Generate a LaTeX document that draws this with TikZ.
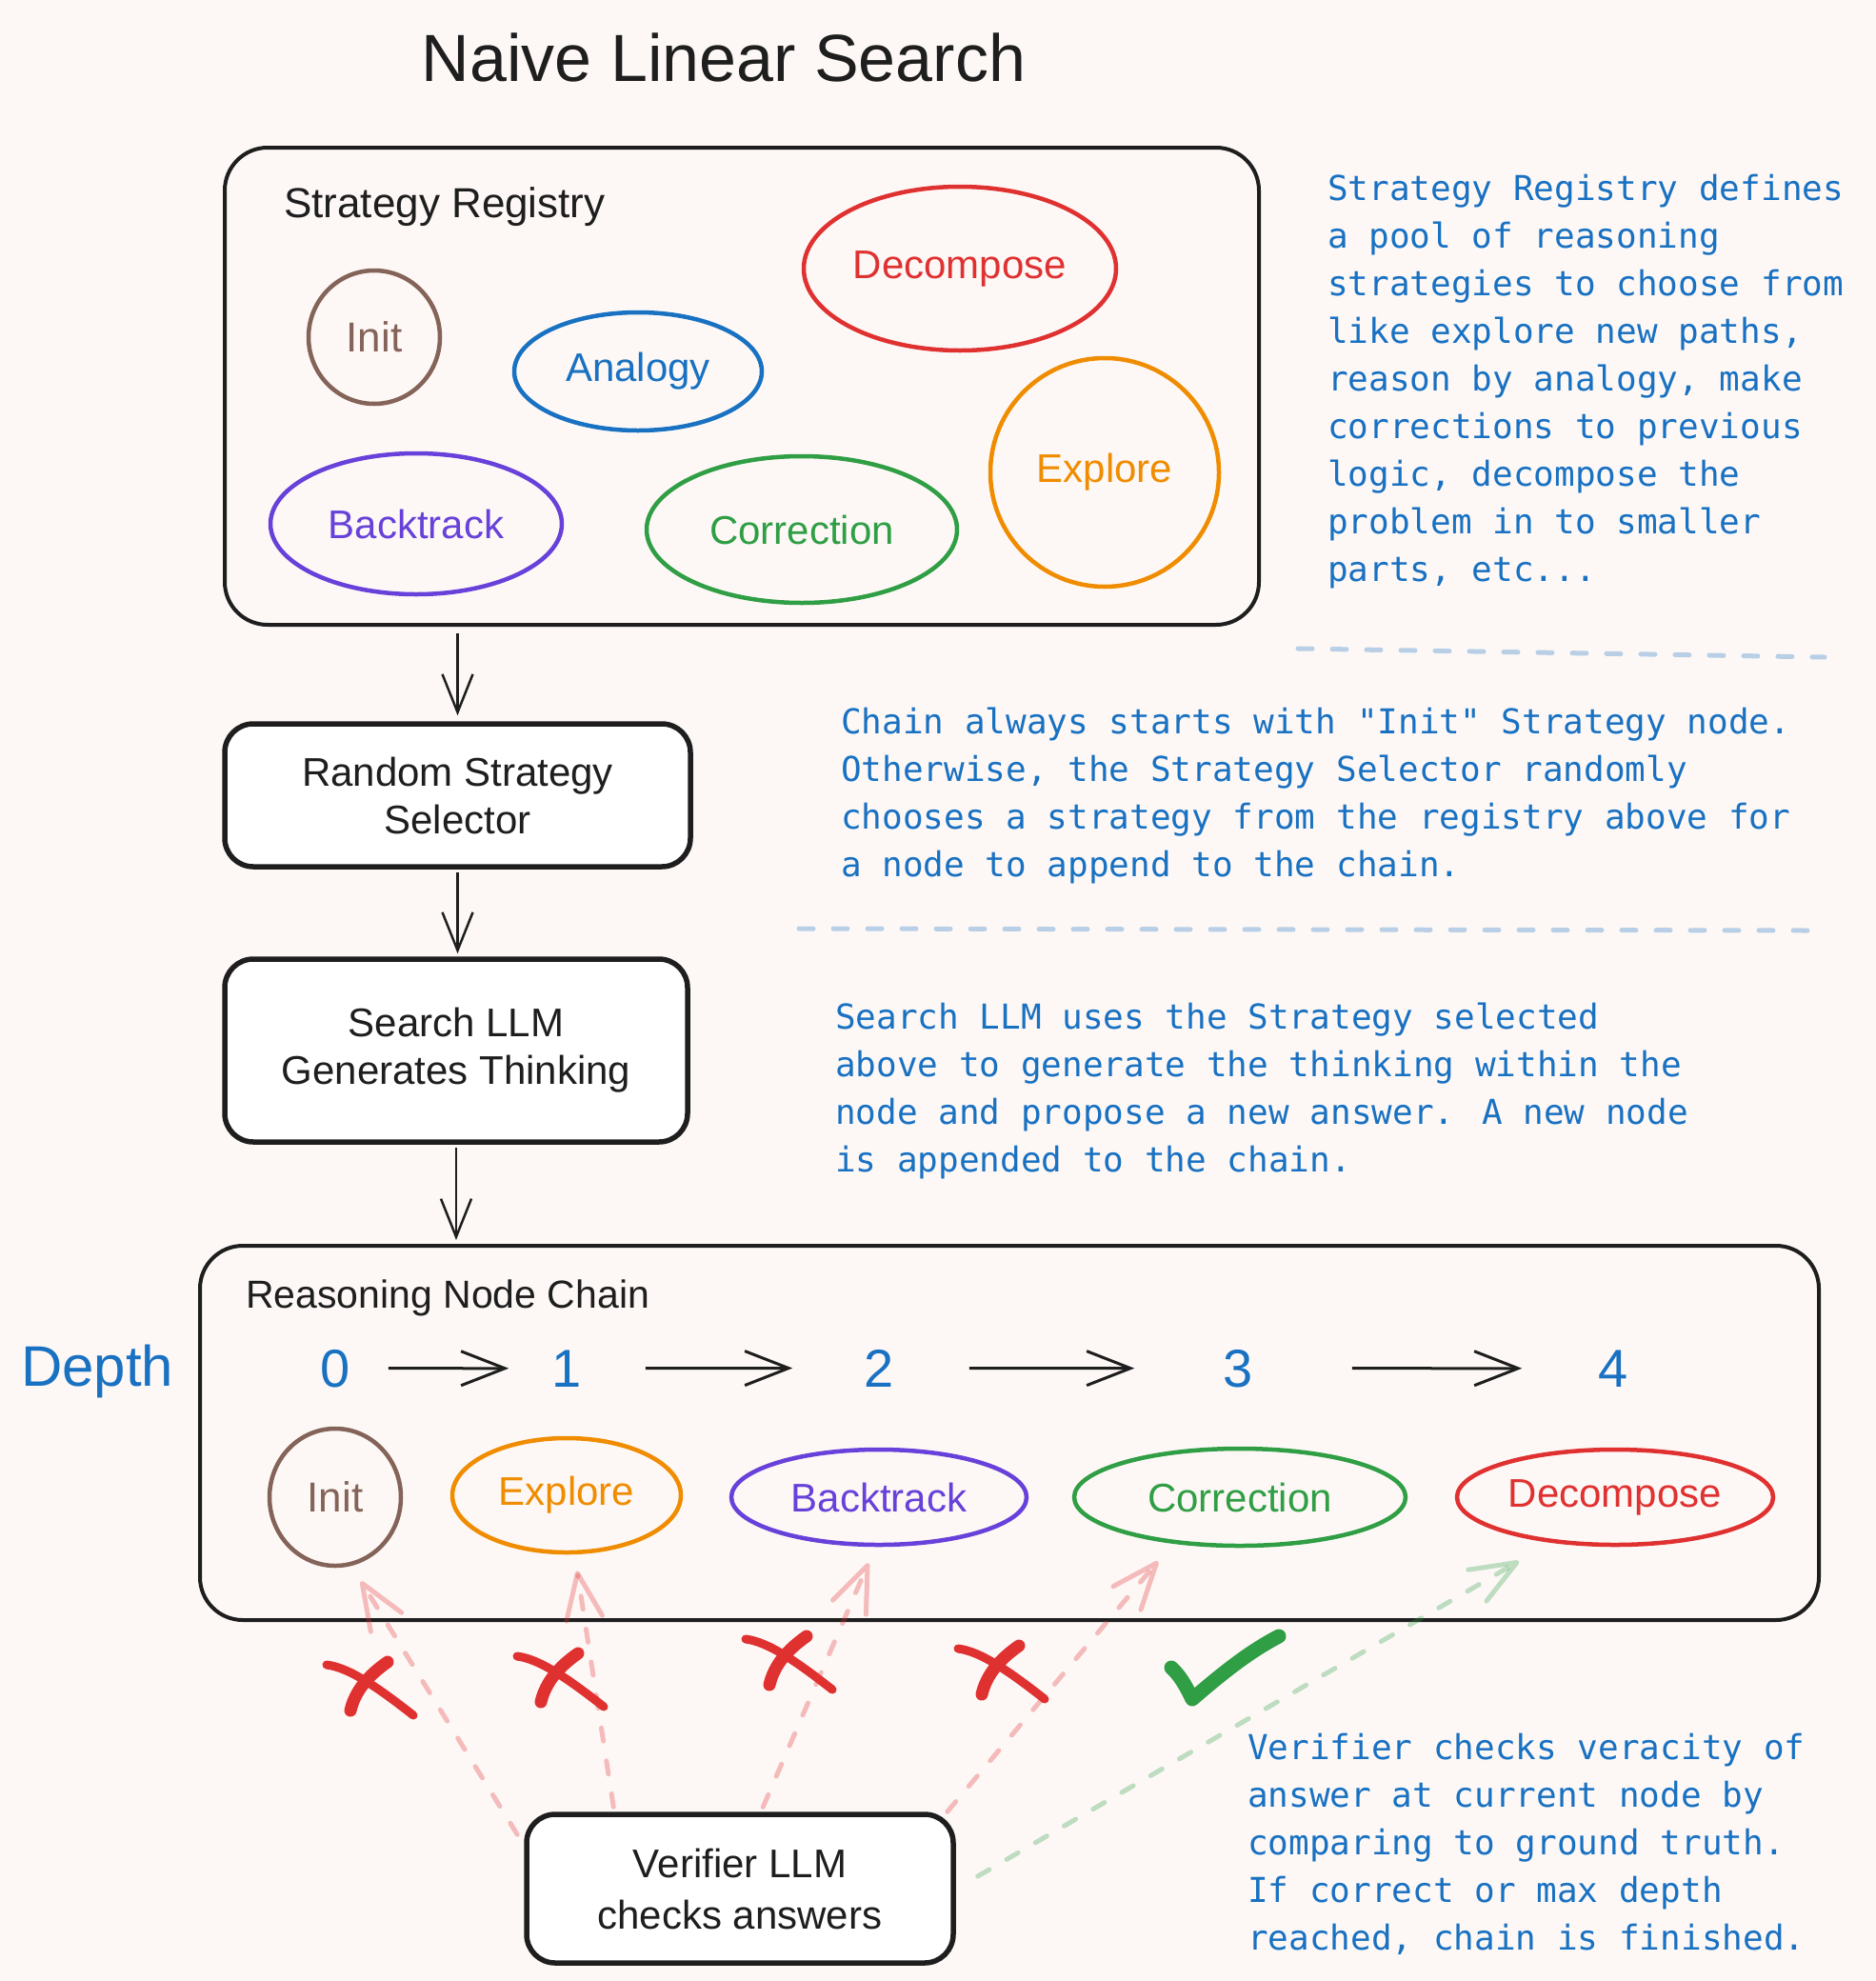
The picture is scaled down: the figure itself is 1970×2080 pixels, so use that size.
\documentclass[tikz,border=0pt]{standalone}
\usepackage{fontspec}
\setmainfont{Liberation Sans}
\newfontfamily\monofont{DejaVu Sans Mono}
\usetikzlibrary{shapes.geometric,arrows.meta,calc}
\definecolor{bgc}{HTML}{FDF8F6}
\definecolor{ink}{HTML}{1E1E1E}
\definecolor{cbrown}{HTML}{846358}
\definecolor{cblue}{HTML}{1971C2}
\definecolor{cred}{HTML}{E03131}
\definecolor{corange}{HTML}{F08C00}
\definecolor{cviolet}{HTML}{6741D9}
\definecolor{cgreen}{HTML}{2F9E44}
\begin{document}
\begin{tikzpicture}[x=1pt,y=-1pt,
  bigbox/.style={draw=ink, line width=4pt, rounded corners=45pt, inner sep=0pt},
  smallbox/.style={draw=ink, line width=5.5pt, fill=white, rounded corners=30pt, align=center, font=\fontsize{42}{50}\selectfont, text=ink},
  ell/.style={ellipse, draw, line width=4.5pt, inner sep=0pt, font=\fontsize{42}{48}\selectfont},
  lab/.style={text=ink, inner sep=0pt, anchor=base west},
  digit/.style={font=\fontsize{56}{60}\selectfont, text=cblue, inner sep=0pt, anchor=base},
  note/.style={font=\monofont\fontsize{36}{50}\selectfont, text=cblue, inner sep=0pt, anchor=base west, align=left},
  flow/.style={draw=ink, line width=2.5pt, -{Straight Barb[length=40pt,width=32pt]}},
  chainarr/.style={draw=ink, line width=3pt, -{Straight Barb[length=46pt,width=36pt]}},
  sepline/.style={draw=cblue, draw opacity=0.3, line width=5pt, line cap=round, dash pattern=on 15pt off 21pt},
  pinkarrow/.style={draw=cred, draw opacity=0.3, line width=5pt, line cap=round, dash pattern=on 14pt off 21pt, -{Straight Barb[length=48pt,width=38pt,round]}},
  greenarrow/.style={draw=cgreen, draw opacity=0.3, line width=5pt, line cap=round, dash pattern=on 14pt off 21pt, -{Straight Barb[length=48pt,width=38pt,round]}},
  xcross/.pic={
    \draw[cred, line width=9pt, line cap=round] (-44,-19) .. controls (-20,-16) and (10,5) .. (47,34);
    \draw[cred, line width=13pt, line cap=round] (20,-22) .. controls (0,-8) and (-14,8) .. (-19,29);
  }
]
% background / bounding box
\fill[bgc] (0,0) rectangle (1970,2080);
\useasboundingbox (0,0) rectangle (1970,2080);

% title
\node[font=\fontsize{70}{80}\selectfont, text=ink, anchor=base, inner sep=0pt] (title) at (760,85) {Naive Linear Search};

% strategy registry
\node[bigbox, minimum width=1086pt, minimum height=501pt] (reg) at (779,405.5) {};
\node[lab, font=\fontsize{44}{50}\selectfont] (reglab) at (298,228) {Strategy Registry};
\node[ell, draw=cbrown, text=cbrown, minimum width=138pt, minimum height=140pt, font=\fontsize{44}{48}\selectfont] (rinit) at (393,354) {Init};
\node[ell, draw=cblue, text=cblue, minimum width=260pt, minimum height=124pt] (rana) at (670,390) {Analogy};
\node[ell, draw=cred, text=cred, minimum width=328pt, minimum height=172pt] (rdec) at (1008,282) {Decompose};
\node[ell, draw=corange, text=corange, minimum width=240pt, minimum height=240pt] (rexp) at (1160,496) {Explore};
\node[ell, draw=cviolet, text=cviolet, minimum width=306pt, minimum height=148pt] (rbt) at (437,550) {Backtrack};
\node[ell, draw=cgreen, text=cgreen, minimum width=326pt, minimum height=154pt] (rcor) at (842,556) {Correction};

% notes (base anchor = baseline of the last line)
\node[note] (note1) at (1394,610) {Strategy Registry defines\\a pool of reasoning\\strategies to choose from\\like explore new paths,\\reason by analogy, make\\corrections to previous\\logic, decompose the\\problem in to smaller\\parts, etc...};
\draw[sepline] (1363,681) -- (1916,690);
\node[note] (note2) at (883,920) {Chain always starts with "Init" Strategy node.\\Otherwise, the Strategy Selector randomly\\chooses a strategy from the registry above for\\a node to append to the chain.};
\draw[sepline] (839,975) -- (1900,977);
\node[note] (note3) at (877,1230) {Search LLM uses the Strategy selected\\above to generate the thinking within the\\node and propose a new answer. A new node\\is appended to the chain.};
\node[note] (note4) at (1310,2047) {Verifier checks veracity of\\answer at current node by\\comparing to ground truth.\\If correct or max depth\\reached, chain is finished.};

% flow boxes
\node[smallbox, minimum width=489pt, minimum height=150pt] (sel) at (480.5,835) {Random Strategy\\Selector};
\node[smallbox, minimum width=486pt, minimum height=192pt] (srch) at (479,1103) {Search LLM\\Generates Thinking};

% chain
\node[bigbox, minimum width=1700pt, minimum height=393pt] (chain) at (1060,1504.5) {};
\node[lab, font=\fontsize{41}{48}\selectfont] (chainlab) at (258,1373) {Reasoning Node Chain};
\node[lab, font=\fontsize{60}{66}\selectfont, text=cblue] (depth) at (22,1455) {Depth};
\node[digit] (d0) at (352,1456) {0};
\node[digit] (d1) at (595,1456) {1};
\node[digit] (d2) at (923,1456) {2};
\node[digit] (d3) at (1300,1456) {3};
\node[digit] (d4) at (1694,1456) {4};
\draw[chainarr, shorten <=40pt, shorten >=45pt] (d0.east) -- (d1.west);
\draw[chainarr, shorten <=67pt, shorten >=75pt] (d1.east) -- (d2.west);
\draw[chainarr, shorten <=79pt, shorten >=93pt] (d2.east) -- (d3.west);
\draw[chainarr, shorten <=104pt, shorten >=80pt] (d3.east) -- (d4.west);

\node[ell, draw=cbrown, text=cbrown, minimum width=138pt, minimum height=144pt, font=\fontsize{44}{48}\selectfont] (c0) at (352,1572) {Init};
\node[ell, draw=corange, text=corange, minimum width=240pt, minimum height=120pt] (c1) at (595,1570) {Explore};
\node[ell, draw=cviolet, text=cviolet, minimum width=310pt, minimum height=100pt] (c2) at (923,1572) {Backtrack};
\node[ell, draw=cgreen, text=cgreen, minimum width=348pt, minimum height=102pt] (c3) at (1302,1572) {Correction};
\node[ell, draw=cred, text=cred, minimum width=332pt, minimum height=100pt] (c4) at (1696,1572) {Decompose};

% verifier
\node[smallbox, minimum width=448pt, minimum height=156pt, font=\fontsize{42}{54}\selectfont] (ver) at (777,1983) {Verifier LLM\\checks answers};

% flow arrows
\draw[flow, shorten <=7pt, shorten >=6pt] (sel.north |- reg.south) -- (sel.north);
\draw[flow, shorten <=3pt, shorten >=3pt] (sel.south) -- (sel.south |- srch.north);
\draw[flow, shorten <=3pt, shorten >=4pt] (srch.south) -- (srch.south |- chain.north);

% verifier arrows
\draw[pinkarrow] ($(ver.north west)+(-7,24)$) -- ($(c0.south)+(27,14)$);
\draw[pinkarrow] ($(ver.north west)+(94,-5)$) -- ($(c1.south)+(11,17)$);
\draw[pinkarrow] ($(ver.north west)+(251,-5)$) -- ($(c2.south)+(-11,17)$);
\draw[pinkarrow] ($(ver.north east)+(-9,0)$) -- ($(c3.south)+(-86,14)$);
\draw[greenarrow] ($(ver.east)+(23,-13)$) -- ($(c4.south)+(-101,15)$);

% marks
\pic at (387,1767) {xcross};
\pic at (587,1758) {xcross};
\pic at (827,1740) {xcross};
\pic at (1050,1750) {xcross};
\draw[cgreen, line width=15pt, line cap=round, line join=round] (1230,1751) .. controls (1240,1760) and (1246,1772) .. (1252,1784) .. controls (1280,1760) and (1310,1735) .. (1343,1718);
\end{tikzpicture}
\end{document}
